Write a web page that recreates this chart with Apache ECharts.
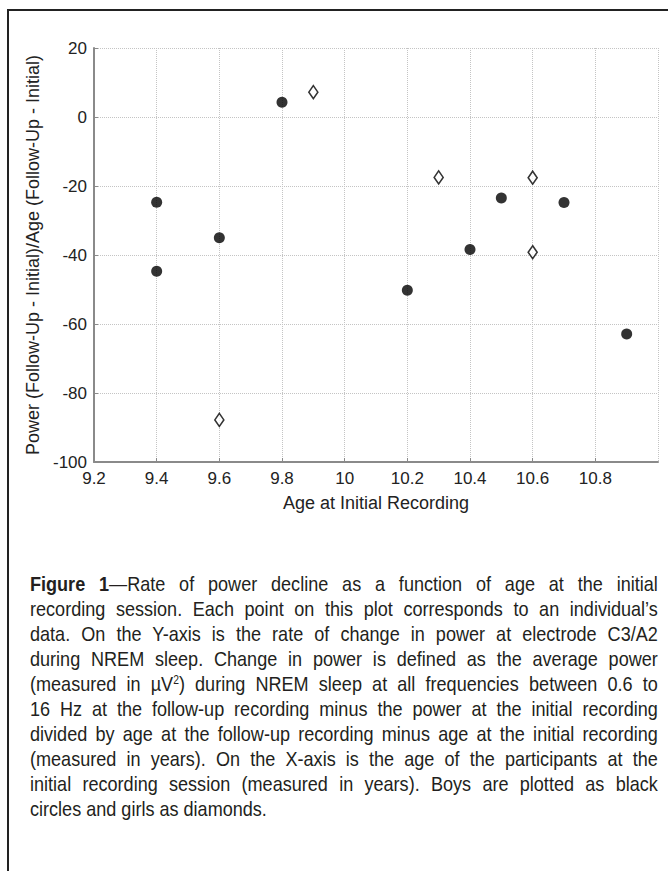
<!DOCTYPE html>
<html>
<head>
<meta charset="utf-8">
<script src="https://cdn.jsdelivr.net/npm/echarts@6/dist/echarts.min.js"></script>
<style>
  html, body { margin: 0; padding: 0; background: #fff; }
  body { width: 668px; height: 871px; position: relative; overflow: hidden; }
  /* frame round the figure */
  .frame {
    position: absolute; left: 7px; top: 9px; right: -10px; bottom: -10px;
    border-top: 2px solid #222; border-left: 2px solid #222;
  }
  #chart { position: absolute; left: 0; top: 0; width: 668px; height: 540px; }
  /* caption: regular sans squeezed a little to look like the condensed face */
  .caption {
    position: absolute; left: 30px; top: 571px; width: 730px;
    transform: scaleX(0.86); transform-origin: 0 0;
    font-family: "Liberation Sans", Arial, sans-serif;
    font-size: 21px; line-height: 25px; color: #231f20;
  }
  .caption div { text-align: justify; text-align-last: justify; white-space: nowrap; }
  .caption div.last { text-align-last: left; }
  .caption b { font-weight: bold; }
  .caption sup { font-size: 12px; line-height: 0; vertical-align: 7px; }
</style>
</head>
<body>
<div class="frame"></div>
<div id="chart"></div>
<div class="caption">
  <div><b>Figure 1</b>—Rate of power decline as a function of age at the initial</div>
  <div>recording session. Each point on this plot corresponds to an individual’s</div>
  <div>data. On the Y-axis is the rate of change in power at electrode C3/A2</div>
  <div>during NREM sleep. Change in power is defined as the average power</div>
  <div>(measured in µV<sup>2</sup>) during NREM sleep at all frequencies between 0.6 to</div>
  <div>16 Hz at the follow-up recording minus the power at the initial recording</div>
  <div>divided by age at the follow-up recording minus age at the initial recording</div>
  <div>(measured in years). On the X-axis is the age of the participants at the</div>
  <div>initial recording session (measured in years). Boys are plotted as black</div>
  <div class="last">circles and girls as diamonds.</div>
</div>
<script>
// boys (filled circles)
const boysAge = [9.4, 9.4, 9.6, 9.8, 10.2, 10.4, 10.5, 10.7, 10.9];
const boysRate = [-24.7, -44.7, -35, 4.3, -50.2, -38.4, -23.5, -24.8, -62.9];

// girls (open diamonds)
const girlsAge = [9.6, 9.9, 10.3, 10.6, 10.6];
const girlsRate = [-87.8, 7.2, -17.5, -17.6, -39.2];

const FONT = '"Liberation Sans", Arial, sans-serif';

function pairs(xs, ys) {
  return xs.map((x, i) => [x, ys[i]]);
}

const chart = echarts.init(document.getElementById('chart'), null, { renderer: 'svg' });

chart.setOption({
  animation: false,
  grid: { left: 94, top: 48, width: 564, height: 414, containLabel: false },
  xAxis: {
    type: 'value',
    min: 9.2,
    max: 11,
    interval: 0.2,
    name: 'Age at Initial Recording',
    nameLocation: 'middle',
    nameGap: 32,
    nameTextStyle: { fontFamily: FONT, fontSize: 18, color: '#222' },
    axisLine: { onZero: false, lineStyle: { color: '#8a8a8a', width: 2 } },
    axisTick: { inside: true, length: 4, lineStyle: { color: '#8a8a8a' } },
    axisLabel: {
      fontFamily: FONT, fontSize: 17, color: '#222', margin: 8,
      showMaxLabel: false,
      formatter: (v) => String(Math.round(v * 10) / 10)
    },
    splitLine: { show: true, lineStyle: { color: '#c4c4c4', type: 'dotted', width: 1 } }
  },
  yAxis: {
    type: 'value',
    min: -100,
    max: 20,
    interval: 20,
    name: 'Power (Follow-Up - Initial)/Age (Follow-Up - Initial)',
    nameLocation: 'middle',
    nameGap: 46,
    nameRotate: 90,
    nameTextStyle: { fontFamily: FONT, fontSize: 18, color: '#222' },
    axisLine: { show: true, onZero: false, lineStyle: { color: '#8a8a8a', width: 2 } },
    axisTick: { show: true, inside: true, length: 4, lineStyle: { color: '#8a8a8a' } },
    axisLabel: { fontFamily: FONT, fontSize: 17, color: '#222', margin: 7 },
    splitLine: { show: true, lineStyle: { color: '#c4c4c4', type: 'dotted', width: 1 } }
  },
  series: [
    {
      name: 'Boys',
      type: 'scatter',
      symbol: 'circle',
      symbolSize: 11,
      itemStyle: { color: '#000' },
      data: pairs(boysAge, boysRate)
    },
    {
      name: 'Girls',
      type: 'scatter',
      symbol: 'diamond',
      symbolSize: [9, 13],
      itemStyle: { color: '#fff', borderColor: '#000', borderWidth: 1.6 },
      data: pairs(girlsAge, girlsRate)
    }
  ]
});
</script>
</body>
</html>
